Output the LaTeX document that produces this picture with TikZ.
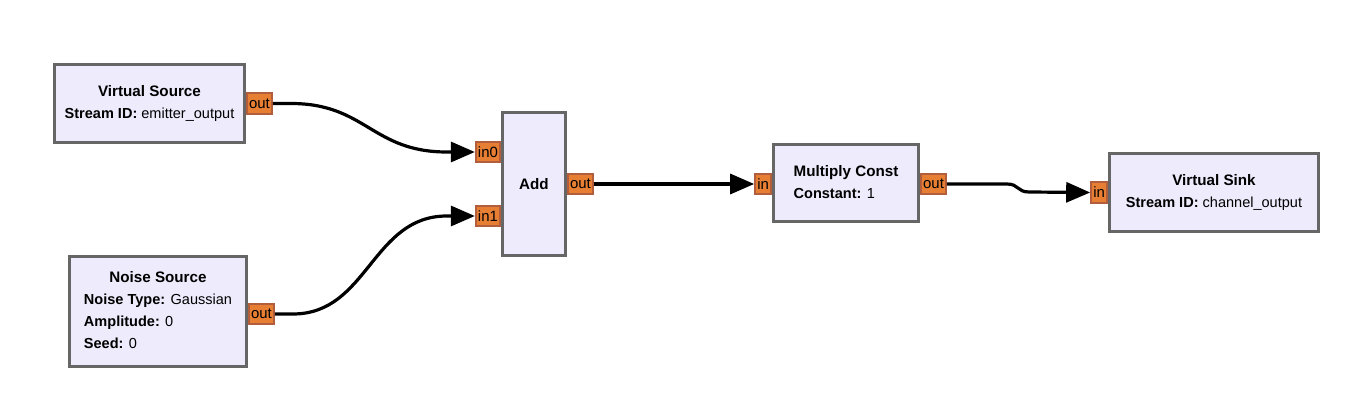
\documentclass[tikz,border=0pt]{standalone}
\usepackage{fontspec}
\setmainfont{Liberation Sans}
\usetikzlibrary{arrows.meta,calc}

\definecolor{blockfill}{RGB}{238,235,252}
\definecolor{blockline}{RGB}{102,102,102}
\definecolor{portfill}{RGB}{230,126,52}
\definecolor{portline}{RGB}{178,94,60}

\tikzset{
	block/.style={draw=blockline, fill=blockfill, line width=2.4pt, inner sep=0pt, font=\fontsize{10.9}{16.5}\selectfont},
	port/.style={draw=portline, fill=portfill, line width=1.6pt, inner xsep=1.5pt, inner ysep=0pt, minimum height=15.5pt, font=\fontsize{11.2}{12}\selectfont},
	wire/.style={black, line width=2.4pt, -{Triangle[length=18pt,width=15pt]}}
}
\newcommand{\blocktext}[2]{\begin{tabular}{@{}l@{}}\multicolumn{1}{@{}c@{}}{\fontsize{11.4}{16.5}\selectfont\bfseries #1}\\#2\end{tabular}}

\begin{document}
\begin{tikzpicture}[x=0.75pt,y=-0.75pt]
		
		\useasboundingbox (0,0) rectangle (1360,406);
		
		\node[block, minimum width=142.4pt, minimum height=58.4pt] (vs) at (149.5,103.5) {\blocktext{Virtual Source}{\textbf{Stream ID:} emitter\_output}};
		\node[block, minimum width=132.7pt, minimum height=82.4pt] (noise) at (158,311.5) {\blocktext{Noise Source}{\textbf{Noise Type:} Gaussian\\\textbf{Amplitude:} 0\\\textbf{Seed:} 0}};
		\node[block, minimum width=47.2pt, minimum height=107.2pt] (add) at (534,184) {\fontsize{11.4}{16.5}\selectfont\textbf{Add}};
		\node[block, minimum width=108.7pt, minimum height=57.7pt] (mul) at (846,183) {\blocktext{Multiply Const}{\textbf{Constant:} 1}};
		\node[block, minimum width=156.7pt, minimum height=58.4pt] (sink) at (1214,192.5) {\blocktext{Virtual Sink}{\textbf{Stream ID:} channel\_output}};
		
		\node[port, anchor=west] (vsout) at (vs.east) {out};
		\node[port, anchor=west] (noiseout) at ($(noise.east)+(0,2.5)$) {out};
		\node[port, anchor=east] (in0) at ($(add.west)+(0,-32)$) {in0};
		\node[port, anchor=east] (in1) at ($(add.west)+(0,32)$) {in1};
		\node[port, anchor=west] (addout) at (add.east) {out};
		\node[port, anchor=east] (mulin) at ($(mul.west)+(0,1)$) {in};
		\node[port, anchor=west] (mulout) at ($(mul.east)+(0,1)$) {out};
		\node[port, anchor=east] (sinkin) at (sink.west) {in};
		
		\draw[wire] (vsout.east) -- ++(18,0) .. controls +(75,0) and +(-75,0) .. ($(in0.west)+(-28,0)$) -- (in0.west);
		\draw[wire] (noiseout.east) -- ++(18,0) .. controls +(75,0) and +(-75,0) .. ($(in1.west)+(-28,0)$) -- (in1.west);
		\draw[wire] (addout.east) -- (mulin.west);
		\draw[wire] (mulout.east) -- ++(60,0) .. controls +(12,0) and +(-12,0) .. ++(22,8) -- (sinkin.west);
		
	\end{tikzpicture}
\end{document}
